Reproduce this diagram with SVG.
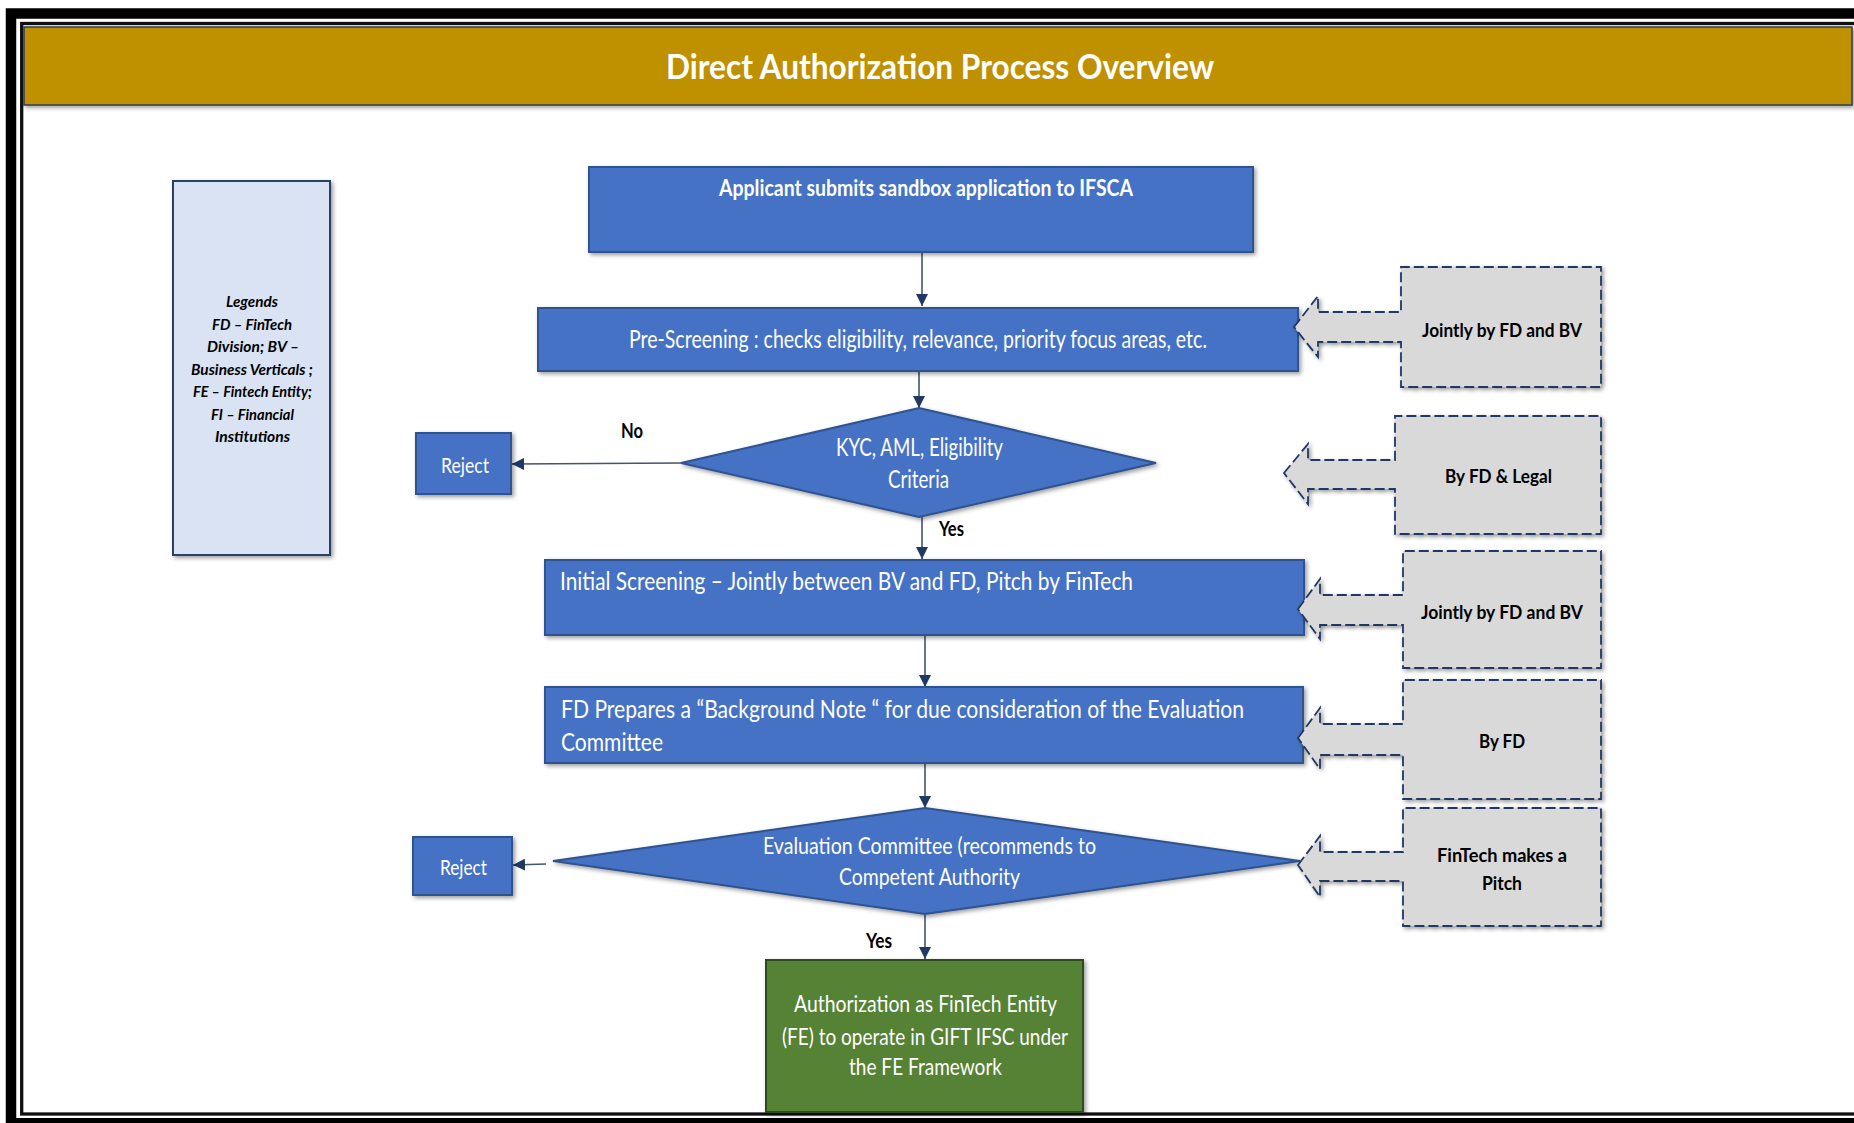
<svg xmlns="http://www.w3.org/2000/svg" width="1854" height="1123" viewBox="0 0 1854 1123">
<defs>
<style>
.t{font-family:Lato,"Liberation Sans",sans-serif;}
.w{fill:#ffffff;}
.k{fill:#000000;}
.b{font-weight:bold;}
.box{fill:#4472C4;stroke:#2F528F;stroke-width:2;}
.co{fill:#D9D9D9;stroke:#203864;stroke-width:1.8;stroke-dasharray:10 4;}
.cn{fill:none;stroke:#44546A;stroke-width:1.6;}
</style>
<filter id="sh" x="-10%" y="-10%" width="125%" height="130%">
<feDropShadow dx="2" dy="2" stdDeviation="2" flood-color="#000000" flood-opacity="0.4"/>
</filter>
<marker id="ah" viewBox="0 0 12 12" refX="12" refY="6" markerWidth="12" markerHeight="12" markerUnits="userSpaceOnUse" orient="auto">
<path d="M0,0 L12,6 L0,12 z" fill="#1F3864"/>
</marker>
</defs>
<rect x="0" y="0" width="1854" height="1123" fill="#ffffff"/>
<g id="frame">
<rect x="11" y="13.5" width="1900" height="1109.75" fill="none" stroke="#000000" stroke-width="10.5"/>
<rect x="21.7" y="23.5" width="1900" height="1090.5" fill="none" stroke="#111111" stroke-width="3.3"/>
</g>
<g id="header">
<rect x="24" y="27" width="1828" height="78" fill="#BF9000" stroke="#2E3B55" stroke-width="1.5" filter="url(#sh)"/>
<text class="t w b" x="940" y="79" font-size="35" text-anchor="middle" textLength="548" lengthAdjust="spacingAndGlyphs">Direct Authorization Process Overview</text>
</g>
<g id="legend">
<rect x="173" y="181" width="157" height="374" fill="#DAE3F3" stroke="#2F3F60" stroke-width="2" filter="url(#sh)"/>
<g class="t k b" font-style="italic" font-size="16" text-anchor="middle">
<text x="252" y="307" textLength="52" lengthAdjust="spacingAndGlyphs">Legends</text>
<text x="252" y="329.5" textLength="80" lengthAdjust="spacingAndGlyphs">FD – FinTech</text>
<text x="253" y="352" textLength="92" lengthAdjust="spacingAndGlyphs">Division;  BV –</text>
<text x="252" y="374.5" textLength="122" lengthAdjust="spacingAndGlyphs">Business Verticals ;</text>
<text x="252.5" y="397" textLength="119" lengthAdjust="spacingAndGlyphs">FE – Fintech Entity;</text>
<text x="252.5" y="419.5" textLength="83" lengthAdjust="spacingAndGlyphs">FI – Financial</text>
<text x="252.5" y="442" textLength="75" lengthAdjust="spacingAndGlyphs">Institutions</text>
</g>
</g>
<g id="connectors">
<path class="cn" d="M922,253 L922,306" marker-end="url(#ah)"/>
<path class="cn" d="M919,371 L919,408" marker-end="url(#ah)"/>
<path class="cn" d="M922,517 L922,559" marker-end="url(#ah)"/>
<path class="cn" d="M925,636 L925,687" marker-end="url(#ah)"/>
<path class="cn" d="M925,764 L925,808" marker-end="url(#ah)"/>
<path class="cn" d="M925,915 L925,959" marker-end="url(#ah)"/>
<path class="cn" d="M681,463 L512,464" marker-end="url(#ah)"/>
<path class="cn" d="M546,864 L513,865" marker-end="url(#ah)"/>
<text class="t k b" x="632" y="438" font-size="21" text-anchor="middle" textLength="22" lengthAdjust="spacingAndGlyphs">No</text>
<text class="t k b" x="951.5" y="536" font-size="20" text-anchor="middle" textLength="25" lengthAdjust="spacingAndGlyphs">Yes</text>
<text class="t k b" x="879" y="948" font-size="20" text-anchor="middle" textLength="26" lengthAdjust="spacingAndGlyphs">Yes</text>
</g>
<g id="applicant">
<rect class="box" x="589" y="167" width="664" height="85" filter="url(#sh)"/>
<text class="t w b" x="926" y="196" font-size="23" text-anchor="middle" textLength="414" lengthAdjust="spacingAndGlyphs">Applicant submits sandbox application to IFSCA</text>
</g>
<g id="prescreening">
<rect class="box" x="538" y="308" width="760" height="63" filter="url(#sh)"/>
<text class="t w" x="918" y="348" font-size="24.5" text-anchor="middle" textLength="578" lengthAdjust="spacingAndGlyphs">Pre-Screening : checks eligibility, relevance, priority focus areas, etc.</text>
</g>
<g id="kyc">
<polygon class="box" points="681,463 919,408 1156,463 919,517" filter="url(#sh)"/>
<text class="t w" x="919.5" y="456" font-size="24.5" text-anchor="middle" textLength="167" lengthAdjust="spacingAndGlyphs">KYC, AML, Eligibility</text>
<text class="t w" x="918.5" y="488" font-size="24.5" text-anchor="middle" textLength="61" lengthAdjust="spacingAndGlyphs">Criteria</text>
</g>
<g id="reject1">
<rect class="box" x="416" y="433" width="95" height="61" filter="url(#sh)"/>
<text class="t w" x="465" y="473" font-size="21.5" text-anchor="middle" textLength="48" lengthAdjust="spacingAndGlyphs">Reject</text>
</g>
<g id="initial">
<rect class="box" x="545" y="560" width="759" height="75" filter="url(#sh)"/>
<text class="t w" x="560" y="590" font-size="25.5" textLength="573" lengthAdjust="spacingAndGlyphs">Initial Screening – Jointly between BV and FD, Pitch by FinTech</text>
</g>
<g id="backgroundnote">
<rect class="box" x="545" y="687" width="758" height="76" filter="url(#sh)"/>
<text class="t w" x="561" y="718" font-size="25.5" textLength="683" lengthAdjust="spacingAndGlyphs">FD Prepares a “Background Note “ for due consideration of the Evaluation</text>
<text class="t w" x="561" y="751" font-size="25.5" textLength="102" lengthAdjust="spacingAndGlyphs">Committee</text>
</g>
<g id="evaluation">
<polygon class="box" points="553,861 925,808 1300,861 925,914" filter="url(#sh)"/>
<text class="t w" x="929.5" y="854" font-size="23" text-anchor="middle" textLength="333" lengthAdjust="spacingAndGlyphs">Evaluation Committee (recommends to</text>
<text class="t w" x="929.5" y="885" font-size="23" text-anchor="middle" textLength="181" lengthAdjust="spacingAndGlyphs">Competent Authority</text>
</g>
<g id="reject2">
<rect class="box" x="413" y="837" width="99" height="58" filter="url(#sh)"/>
<text class="t w" x="463.5" y="875" font-size="21.5" text-anchor="middle" textLength="47" lengthAdjust="spacingAndGlyphs">Reject</text>
</g>
<g id="authorization">
<rect x="766" y="960" width="317" height="152" fill="#548235" stroke="#2F4B1F" stroke-width="2" filter="url(#sh)"/>
<text class="t w" x="925.5" y="1012" font-size="22.5" text-anchor="middle" textLength="263" lengthAdjust="spacingAndGlyphs">Authorization as FinTech Entity</text>
<text class="t w" x="925" y="1045" font-size="22.5" text-anchor="middle" textLength="286" lengthAdjust="spacingAndGlyphs">(FE) to operate in GIFT IFSC under</text>
<text class="t w" x="925.5" y="1075" font-size="22.5" text-anchor="middle" textLength="153" lengthAdjust="spacingAndGlyphs">the FE Framework</text>
</g>
<g id="callout1">
<path class="co" d="M1294,327 L1318,296 L1318,312 L1401,312 L1401,267 L1601,267 L1601,387 L1401,387 L1401,342 L1318,342 L1318,357 Z" filter="url(#sh)"/>
<text class="t k b" x="1502" y="337" font-size="19.5" text-anchor="middle" textLength="160" lengthAdjust="spacingAndGlyphs">Jointly by FD and BV</text>
</g>
<g id="callout2">
<path class="co" d="M1284,473 L1308,444 L1308,460 L1395,460 L1395,416 L1601,416 L1601,534 L1395,534 L1395,489 L1308,489 L1308,504 Z" filter="url(#sh)"/>
<text class="t k b" x="1498.5" y="483" font-size="19.5" text-anchor="middle" textLength="107" lengthAdjust="spacingAndGlyphs">By FD &amp; Legal</text>
</g>
<g id="callout3">
<path class="co" d="M1298,609 L1320,579 L1320,595 L1403,595 L1403,551 L1601,551 L1601,668 L1403,668 L1403,625 L1320,625 L1320,639 Z" filter="url(#sh)"/>
<text class="t k b" x="1502" y="619" font-size="19.5" text-anchor="middle" textLength="162" lengthAdjust="spacingAndGlyphs">Jointly by FD and BV</text>
</g>
<g id="callout4">
<path class="co" d="M1298,738 L1320,708 L1320,724 L1403,724 L1403,680 L1601,680 L1601,799 L1403,799 L1403,755 L1320,755 L1320,769 Z" filter="url(#sh)"/>
<text class="t k b" x="1502" y="748" font-size="19.5" text-anchor="middle" textLength="46" lengthAdjust="spacingAndGlyphs">By FD</text>
</g>
<g id="callout5">
<path class="co" d="M1298,865 L1320,836 L1320,852 L1403,852 L1403,808 L1601,808 L1601,926 L1403,926 L1403,881 L1320,881 L1320,897 Z" filter="url(#sh)"/>
<text class="t k b" x="1502" y="862" font-size="19.5" text-anchor="middle" textLength="130" lengthAdjust="spacingAndGlyphs">FinTech makes a</text>
<text class="t k b" x="1502" y="890" font-size="19.5" text-anchor="middle" textLength="40" lengthAdjust="spacingAndGlyphs">Pitch</text>
</g>
</svg>
